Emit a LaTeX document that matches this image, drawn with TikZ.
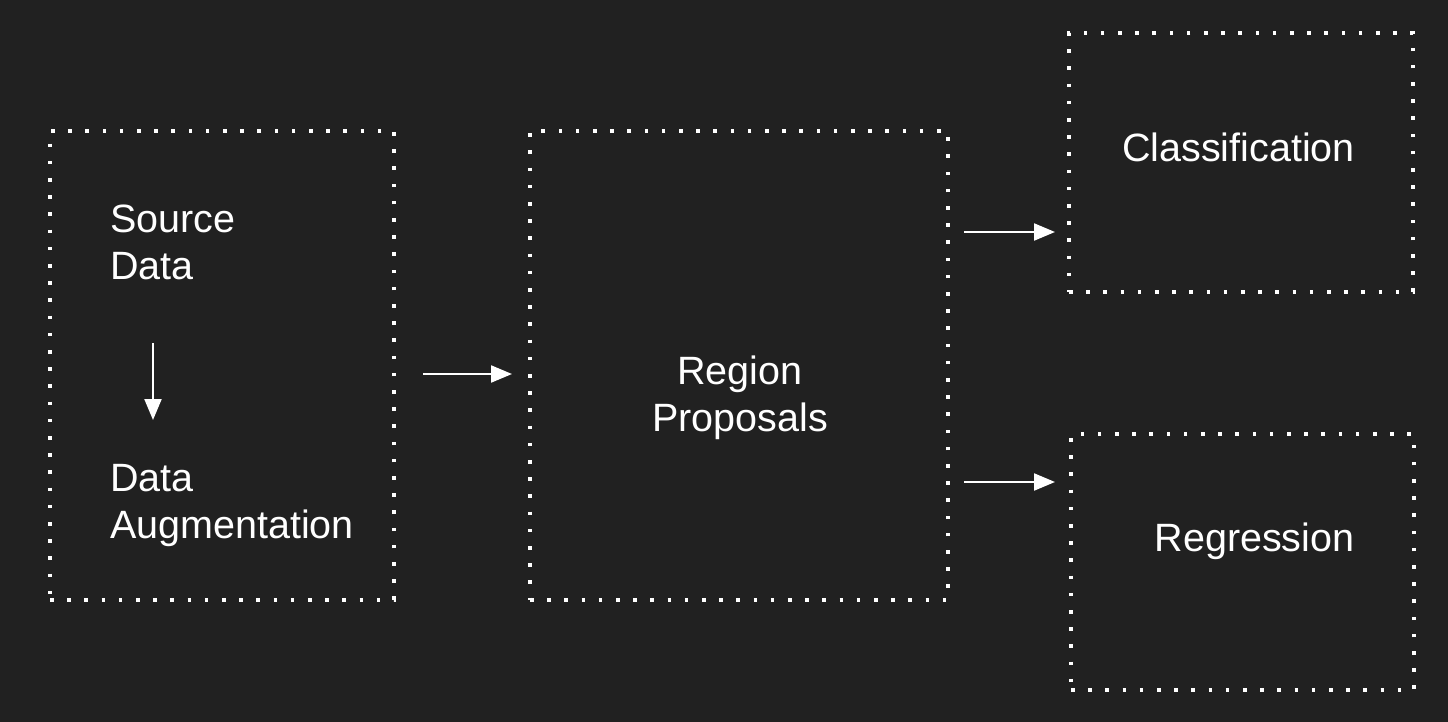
\documentclass[tikz,border=0pt]{standalone}
\usepackage{fontspec}
\setmainfont{Liberation Sans}
\usetikzlibrary{arrows.meta}
\definecolor{bg}{HTML}{212121}
\begin{document}
\begin{tikzpicture}[x=1pt,y=-1pt,
  dotbox/.style={draw=white, line width=3.6pt, dash pattern=on 3.6pt off 13.6pt, inner sep=0pt},
  label/.style={text=white, inner sep=0pt, font=\fontsize{39.5}{46.5}\selectfont},
  conn/.style={draw=white, line width=2.2pt, -{Triangle[length=21pt,width=17pt]}}]
\fill[bg] (0,0) rectangle (1448,722);
\useasboundingbox (0,0) rectangle (1448,722);
% boxes
\node[dotbox, minimum width=344pt, minimum height=469pt] (left) at (222,365.5) {};
\node[dotbox, minimum width=418pt, minimum height=469pt] (mid) at (739,365.5) {};
\node[dotbox, minimum width=344pt, minimum height=259pt] (cls) at (1241,162.5) {};
\node[dotbox, minimum width=343pt, minimum height=256pt] (reg) at (1242.5,562) {};
% texts
\node[label, anchor=base west, align=left] (src) at (110,279) {Source\\Data};
\node[label, anchor=base west, align=left] (aug) at (110,538) {Data\\Augmentation};
\node[label, anchor=base, align=center] (rp) at (740,431) {Region\\Proposals};
\node[label, anchor=base] (clst) at (1238.5,162) {Classification};
\node[label, anchor=base] (regt) at (1254.5,551) {Regression};
% connector ends
\coordinate (a1) at (153,343);
\coordinate (a2) at (153,420);
\coordinate (b1) at (423,374);
\coordinate (b2) at (512,374);
\coordinate (c1) at (964,232);
\coordinate (c2) at (1055,232);
\coordinate (d1) at (964,482);
\coordinate (d2) at (1055,482);
\draw[conn] (a1) -- (a2);
\draw[conn] (b1) -- (b2);
\draw[conn] (c1) -- (c2);
\draw[conn] (d1) -- (d2);
\end{tikzpicture}
\end{document}
